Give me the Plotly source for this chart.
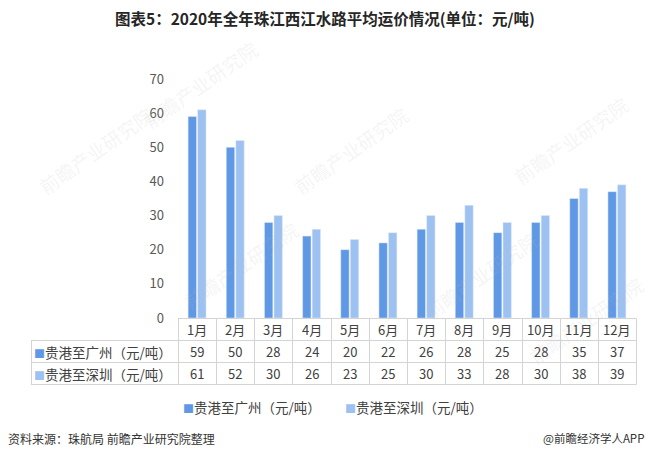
import plotly.graph_objects as go

months = ["1月", "2月", "3月", "4月", "5月", "6月", "7月", "8月", "9月", "10月", "11月", "12月"]
guangzhou = [59, 50, 28, 24, 20, 22, 26, 28, 25, 28, 35, 37]
shenzhen = [61, 52, 30, 26, 23, 25, 30, 33, 28, 30, 38, 39]
series_names = ["贵港至广州（元/吨）", "贵港至深圳（元/吨）"]
title_text = "图表5：2020年全年珠江西江水路平均运价情况(单位：元/吨)"
source_text = "资料来源：珠航局 前瞻产业研究院整理"
brand_text = "@前瞻经济学人APP"

C1 = "#5f98e5"
C2 = "#9dc2f1"
FONT = "Noto Sans CJK SC"
LINE = "#d4d4d4"

W, H = 650, 459
L, R, T, B = 178, 14, 79, 141
PW, PH = W - L - R, H - T - B


def px(x):
    return (x - L) / PW


def py(y):
    return (H - B - y) / PH


idx = list(range(len(months)))

fig = go.Figure()
fig.add_bar(x=idx, y=guangzhou, name=series_names[0], marker_color=C1, showlegend=False)
fig.add_bar(x=idx, y=shenzhen, name=series_names[1], marker_color=C2, showlegend=False)

shapes = []
ann = []

# table lines
n = len(months)
for yy in [318.5, 340.5, 362.5, 384.5]:
    x0 = px(178) if yy < 320 else px(31)
    shapes.append(dict(type="line", xref="paper", yref="paper", x0=x0, x1=px(636.5), y0=py(yy), y1=py(yy),
                       line=dict(color=LINE, width=1)))
for i in range(n + 1):
    xx = round(L + i * PW / n) + 0.5
    shapes.append(dict(type="line", xref="paper", yref="paper", x0=px(xx), x1=px(xx), y0=py(318.5), y1=py(384.5),
                       line=dict(color=LINE, width=1)))
shapes.append(dict(type="line", xref="paper", yref="paper", x0=px(31.5), x1=px(31.5), y0=py(340.5), y1=py(384.5),
                   line=dict(color=LINE, width=1)))

tf = dict(family=FONT, size=13, color="#404040")
lab = dict(family=FONT, size=13.5, color="#404040")
for i, m in enumerate(months):
    ann.append(dict(x=i, y=py(329.5), xref="x", yref="paper", xanchor="center", yanchor="middle",
                    text=m, showarrow=False, font=tf))
    ann.append(dict(x=i, y=py(351.5), xref="x", yref="paper", xanchor="center", yanchor="middle",
                    text=str(guangzhou[i]), showarrow=False, font=tf))
    ann.append(dict(x=i, y=py(373.5), xref="x", yref="paper", xanchor="center", yanchor="middle",
                    text=str(shenzhen[i]), showarrow=False, font=tf))

for nm, col, yy in [(series_names[0], C1, 351.5), (series_names[1], C2, 373.5)]:
    ann.append(dict(x=px(32), y=py(yy), xref="paper", yref="paper", xanchor="left", yanchor="middle",
                    text=f"<span style='color:{col};font-size:11px'>■</span>{nm}", showarrow=False, font=lab))

# legend
lf = dict(family=FONT, size=13.5, color="#404040")
for nm, col, xx in [(series_names[0], C1, 181), (series_names[1], C2, 343)]:
    ann.append(dict(x=px(xx), y=py(407), xref="paper", yref="paper", xanchor="left", yanchor="middle",
                    text=f"<span style='color:{col};font-size:11px'>■</span>{nm}", showarrow=False, font=lf))

# source
sf = dict(family=FONT, size=12, color="#333333")
ann.append(dict(x=px(6), y=py(438), xref="paper", yref="paper", xanchor="left", yanchor="middle",
                text=source_text, showarrow=False, font=sf))
ann.append(dict(x=px(646), y=py(438), xref="paper", yref="paper", xanchor="right", yanchor="middle",
                text=brand_text, showarrow=False, font=dict(family=FONT, size=11.5, color="#333333")))

# watermarks
wf = dict(family=FONT, size=19, color="rgba(190,190,190,0.16)")
for (wx, wy) in [(200, 85), (95, 150), (350, 150), (570, 140), (240, 265), (480, 275), (585, 320)]:
    ann.append(dict(x=px(wx), y=py(wy), xref="paper", yref="paper", xanchor="center", yanchor="middle",
                    text="前瞻产业研究院", textangle=-35, showarrow=False, font=wf))

fig.update_layout(
    width=W, height=H, autosize=False,
    margin=dict(l=L, r=R, t=T, b=B),
    paper_bgcolor="white", plot_bgcolor="white",
    barmode="group", bargap=0.5, bargroupgap=0.12,
    title=dict(text=f"<b>{title_text}</b>", x=0.5, xanchor="center", y=1 - 20 / H, yanchor="middle",
               font=dict(family=FONT, size=15.5, color="#262626")),
    xaxis=dict(range=[-0.5, n - 0.5], showticklabels=False, showgrid=False, zeroline=False, showline=False,
               ticks=""),
    yaxis=dict(range=[0, 70], dtick=10, showgrid=False, zeroline=False, showline=False, ticks="",
               tickfont=dict(family=FONT, size=13, color="#595959"), ticklabelstandoff=13),
    shapes=shapes, annotations=ann,
)

fig.write_html("out.html", config={"displayModeBar": False},
               post_script="document.body.style.margin='0';document.body.style.overflow='hidden';")
